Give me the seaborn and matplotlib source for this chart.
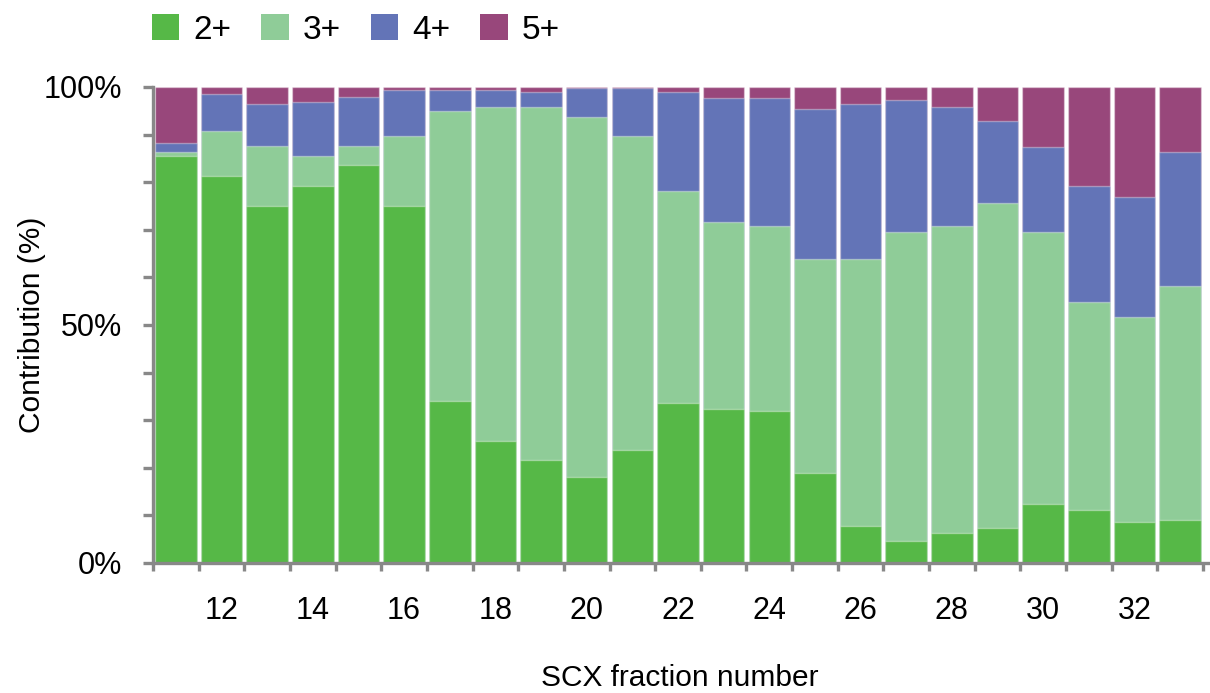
import numpy as np
import pandas as pd
import matplotlib
matplotlib.use('Agg')
import matplotlib.pyplot as plt
from matplotlib.patches import Patch
from matplotlib.ticker import FixedLocator, MultipleLocator
import seaborn as sns

# 데이터 (그림에서 읽은 값, %)
fractions = list(range(11, 34))
charge_2 = [85.5, 81.2, 75.1, 79.1, 83.7, 75.1, 34.1, 25.6, 21.6, 18.1, 23.8, 33.7,
            32.4, 32.0, 19.0, 7.8, 4.6, 6.4, 7.4, 12.5, 11.2, 8.7, 9.1]
charge_3 = [0.9, 9.6, 12.6, 6.4, 4.0, 14.7, 60.9, 70.3, 74.3, 75.6, 66.0, 44.5,
            39.3, 38.9, 44.9, 56.1, 64.9, 64.5, 68.2, 57.0, 43.6, 43.0, 49.1]
charge_4 = [1.8, 7.7, 8.7, 11.3, 10.3, 9.5, 4.3, 3.4, 3.0, 6.1, 10.0, 20.7,
            25.9, 26.7, 31.5, 32.5, 27.7, 25.0, 17.3, 17.8, 24.3, 25.2, 28.2]
series_names = ['2+', '3+', '4+', '5+']
colors = ['#56B847', '#8FCC98', '#6374B7', '#98477B']

df = pd.DataFrame({'fraction': [str(f) for f in fractions],
                   '2+': charge_2, '3+': charge_3, '4+': charge_4})
df['5+'] = 100 - df['2+'] - df['3+'] - df['4+']

# 누적값 (위에서부터 그려서 쌓인 막대처럼 보이게)
cum = df[series_names].cumsum(axis=1)

plt.rcParams['font.family'] = ['Liberation Sans', 'DejaVu Sans']
fig = plt.figure(figsize=(12.1, 6.93), dpi=100)
ax = fig.add_axes([153 / 1210, 1 - 563 / 693, 1050 / 1210, 476 / 693])

for name, color in reversed(list(zip(series_names, colors))):
    sns.barplot(x=df['fraction'], y=cum[name], color=color, width=0.91,
                saturation=1, edgecolor=(1, 1, 1, 0.35), linewidth=1.0, ax=ax)

ax.set_xlim(-0.5, len(fractions) - 0.5)
ax.set_ylim(0, 100)

spine_col = '#888888'
for s in ['top', 'right']:
    ax.spines[s].set_visible(False)
for s in ['left', 'bottom']:
    ax.spines[s].set_color(spine_col)
    ax.spines[s].set_linewidth(2.4)
ax.spines['bottom'].set_bounds(-0.5, len(fractions) - 0.5 + 0.3)

# y축: 10% 단위 눈금, 0/50/100만 라벨
ax.yaxis.set_major_locator(FixedLocator([0, 50, 100]))
ax.set_yticklabels(['0%', '50%', '100%'])
ax.yaxis.set_minor_locator(MultipleLocator(10))
ax.tick_params(axis='y', which='both', direction='out', length=7, width=2.4,
               color=spine_col, labelsize=22, pad=15)

# x축: 막대 사이 눈금, 짝수 번호만 라벨
even_pos = [i for i, f in enumerate(fractions) if f % 2 == 0]
ax.xaxis.set_major_locator(FixedLocator(even_pos))
ax.set_xticklabels([str(fractions[i]) for i in even_pos])
ax.xaxis.set_minor_locator(FixedLocator(np.arange(-0.5, len(fractions), 1.0)))
ax.tick_params(axis='x', which='major', length=0, labelsize=22, pad=24)
ax.tick_params(axis='x', which='minor', direction='out', length=6, width=2.4,
               color=spine_col)

ax.set_xlabel('SCX fraction number', fontsize=21.5)
ax.set_ylabel('Contribution (%)', fontsize=21.5)
ax.xaxis.set_label_coords(0.502, -0.242)
ax.xaxis.label.set_va('center')
ax.yaxis.set_label_coords(-0.115, 0.5)
ax.yaxis.label.set_va('center')

handles = [Patch(facecolor=c, edgecolor='none', label=n) for n, c in zip(series_names, colors)]
fig.legend(handles=handles, loc='center left', bbox_to_anchor=(152 / 1210, 1 - 30 / 693),
           ncol=4, frameon=False, fontsize=24, handlelength=0.82, handleheight=0.82,
           handletextpad=0.42, columnspacing=0.9, borderpad=0, borderaxespad=0)

fig.savefig('out.png', dpi=100, facecolor='white')
